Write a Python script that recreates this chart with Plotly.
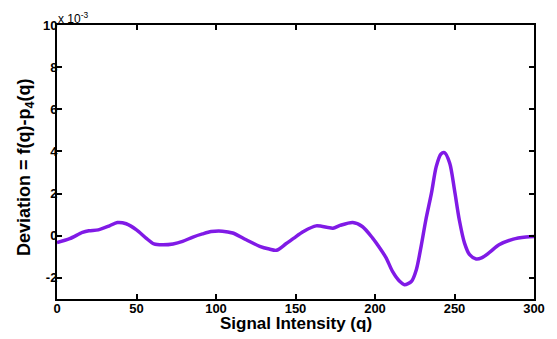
import plotly.graph_objects as go

# Deviation values in units of 1e-3
q = [0, 8, 16, 20, 26, 33, 38, 43.5, 50, 56, 61, 66.5, 73, 79, 85.5, 91.5, 97, 104, 110.5, 119, 127.5,
     133.5, 138, 144, 149, 155, 163, 173.5, 178, 186, 192, 198.5, 203, 207, 211, 215.5, 218.5, 223,
     226, 229, 232, 235.5, 238.5, 241.5, 243.7, 247, 250, 253, 256.3, 259.5, 263.6, 267, 272, 278,
     287, 295, 300]
dev = [-0.32, -0.14, 0.16, 0.24, 0.28, 0.47, 0.63, 0.57, 0.28, -0.11, -0.39, -0.43, -0.39, -0.27, -0.06,
       0.09, 0.2, 0.22, 0.13, -0.19, -0.5, -0.63, -0.69, -0.38, -0.11, 0.2, 0.47, 0.36, 0.49, 0.63, 0.44,
       -0.11, -0.58, -1.05, -1.69, -2.16, -2.32, -2.16, -1.61, -0.5, 0.76, 2.02, 3.28, 3.88, 3.94, 3.44,
       2.17, 0.76, -0.35, -0.9, -1.1, -1.05, -0.79, -0.43, -0.16, -0.06, -0.03]

x_ticks = [0, 50, 100, 150, 200, 250, 300]
y_ticks = [-2, 0, 2, 4, 6, 8, 10]

font_family = "Liberation Sans, Arial, sans-serif"

# page has an 8px body margin; figure is sized so the plot lands where the reference has it
W, H = 549, 331
ML, MR, MT, MB = 49, 23, 16.5, 39.5
plot_w = W - ML - MR
plot_h = H - MT - MB

fig = go.Figure()
fig.add_trace(go.Scatter(
    x=q, y=dev, mode="lines",
    line=dict(color="rgb(128,26,230)", width=3.5, shape="spline", smoothing=0.8),
    showlegend=False, hoverinfo="skip",
))

axis_common = dict(
    showgrid=False, zeroline=False, showline=True, linecolor="black", linewidth=2,
    mirror="ticks", ticks="inside", ticklen=5, tickwidth=1.5, tickcolor="black",
    automargin=False,
    tickfont=dict(family=font_family, size=13, color="black", weight="bold"),
)

fig.update_layout(
    width=W, height=H,
    margin=dict(l=ML, r=MR, t=MT, b=MB),
    paper_bgcolor="white", plot_bgcolor="white",
    font=dict(family=font_family, color="black"),
    xaxis=dict(range=[0, 300], tickvals=x_ticks, ticktext=[str(v) for v in x_ticks],
               ticklabelstandoff=-4, **axis_common),
    yaxis=dict(range=[-3, 10], tickvals=y_ticks, ticktext=[str(v) for v in y_ticks],
               ticklabelstandoff=-5, **axis_common),
    annotations=[
        dict(text="x 10<sup>-3</sup>", x=0, y=1, xref="paper", yref="paper",
             xanchor="left", yanchor="bottom", showarrow=False, xshift=-1, yshift=-3,
             font=dict(family=font_family, size=12, color="black")),
        dict(text="<b>Signal Intensity (q)</b>",
             x=(296 - 8 - ML) / plot_w, y=(H - MB - (324 - 8)) / plot_h,
             xref="paper", yref="paper",
             showarrow=False, xanchor="center", yanchor="middle",
             font=dict(family=font_family, size=17, color="black")),
        dict(text="<b>Deviation = f(q)-p<sub>4</sub>(q)</b>",
             x=(26 - 8 - ML) / plot_w, y=(H - MB - (167 - 8)) / plot_h,
             xref="paper", yref="paper",
             showarrow=False, textangle=-90, xanchor="center", yanchor="middle",
             font=dict(family=font_family, size=18, color="black")),
    ],
)

fig.write_html("out.html")
